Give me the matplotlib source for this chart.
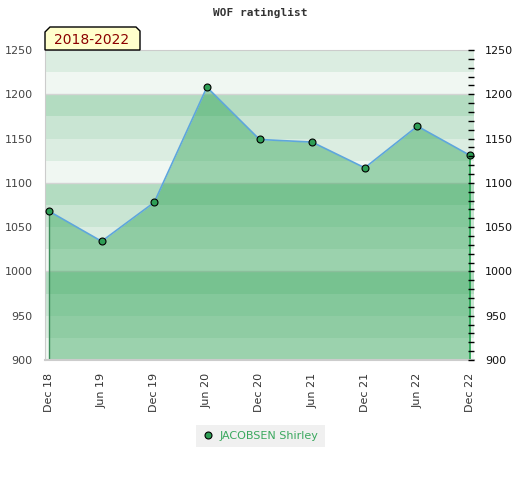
import matplotlib.pyplot as plt
from matplotlib.lines import Line2D
from matplotlib.patches import Polygon
from matplotlib.ticker import MultipleLocator

# ratings
periods = ['Dec 18', 'Jun 19', 'Dec 19', 'Jun 20', 'Dec 20', 'Jun 21', 'Dec 21', 'Jun 22', 'Dec 22']
ratings = [1068, 1034, 1078, 1208, 1149, 1146, 1117, 1164, 1131]
player = 'JACOBSEN Shirley'
span_label = '2018-2022'
y_min, y_max = 900, 1250

W, H = 520, 480
fig = plt.figure(figsize=(W / 100, H / 100), dpi=100)
ax = fig.add_axes([45 / W, 1 - 360 / H, 429 / W, 310 / H])

x = list(range(len(periods)))
ax.set_xlim(-0.076, len(periods) - 1 + 0.076)
ax.set_ylim(y_min, y_max)

# striped background, 4 shades per hundred
band_cols = ['#f0f7f2', '#dbede1', '#c9e5d3', '#b3dcc1']
for lo in range(y_min, y_max, 25):
    ax.axhspan(lo, lo + 25, color=band_cols[(lo % 100) // 25], lw=0, zorder=0)
for g in (1000, 1100, 1200):
    ax.axhline(g, color='#d4d4d4', lw=1, zorder=0.5)

ax.fill_between(x, ratings, y_min, color='#26a04e', alpha=0.42, lw=0, zorder=1)
ax.plot(x, ratings, color='#5ea6dc', lw=1.2, zorder=2)
ax.vlines(x[0], y_min, ratings[0], color='#3d8c5a', lw=1, zorder=2)
ax.vlines(x[-1], y_min, ratings[-1], color='#27a552', lw=1.2, zorder=2)
ax.plot(x, ratings, ls='none', marker='o', ms=5, mfc='#2e9e55', mec='black', mew=0.8, zorder=3)

for s in ['left', 'bottom', 'top']:
    ax.spines[s].set_color('#cccccc')
ax.spines['bottom'].set_linewidth(1.5)
ax.spines['right'].set_visible(False)

ax.set_xticks(x)
ax.set_xticklabels(periods, rotation=90, fontsize=8, color='#333333')
ax.tick_params(axis='x', length=0, pad=9)
ax.yaxis.set_major_locator(MultipleLocator(50))
ax.tick_params(axis='y', length=0, pad=9, labelsize=8, labelcolor='#444444')

ax2 = ax.twinx()
ax2.set_ylim(y_min, y_max)
ax2.yaxis.set_major_locator(MultipleLocator(50))
ax2.yaxis.set_minor_locator(MultipleLocator(10))
ax2.tick_params(axis='y', which='both', direction='in', length=4, width=1, color='black',
                labelsize=8, labelcolor='#111111', pad=8)
for s in ax2.spines.values():
    s.set_visible(False)

fig.text(260 / W, 1 - 13 / H, 'WOF ratinglist', ha='center', va='center',
         family='DejaVu Sans Mono', weight='bold', fontsize=8, color='#333333')

# yellow tab with the period
tab = [(45, 50), (45, 32), (50, 27), (136, 27), (140, 31), (140, 50)]
fig.patches.append(Polygon([(px / W, 1 - py / H) for px, py in tab], closed=True,
                           transform=fig.transFigure, facecolor='#ffffcc', edgecolor='black', lw=1))
fig.text(92 / W, 1 - 40 / H, span_label, ha='center', va='center', fontsize=10, color='#8b0000')

handle = Line2D([], [], ls='none', marker='o', ms=5, mfc='#2e9e55', mec='black', mew=0.8)
leg = fig.legend([handle], [player], loc='center', bbox_to_anchor=(260.5 / W, 1 - 436 / H),
                 fontsize=8, labelcolor='#3aa85e', facecolor='#f0f0f0', edgecolor='none',
                 fancybox=False, framealpha=1, handlelength=1, handletextpad=0.6,
                 borderpad=0.55, borderaxespad=0)

fig.savefig('out.png', dpi=100)
